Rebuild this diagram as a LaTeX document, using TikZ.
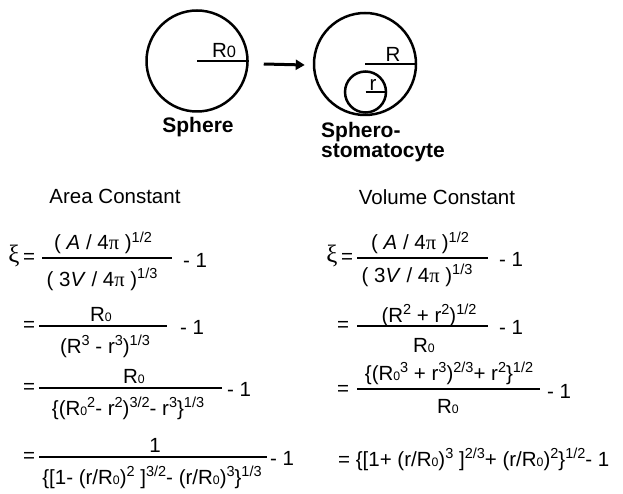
\documentclass[tikz,border=0pt]{standalone}
\usepackage{fontspec}
\setmainfont{Liberation Sans}
\newfontfamily\grk{Liberation Serif}
\usepackage{graphicx}
\usetikzlibrary{arrows.meta}
\newcommand\Rz{R\scalebox{0.6}{0}}
\newcommand\expo[1]{\raisebox{0.36em}{\fontsize{14.5}{16}\selectfont #1}}

\begin{document}
\begin{tikzpicture}[x=1pt, y=-1pt,
    every node/.style={inner sep=0pt},
    eq/.style={font=\fontsize{20.5}{24}\selectfont},
    greek/.style={font=\fontsize{25}{28}\selectfont\grk},
    head/.style={font=\fontsize{20.5}{24}\selectfont},
    lbl/.style={font=\fontsize{21}{22}\selectfont\bfseries},
    ball/.style={draw, circle, line width=2.5pt},
    rad/.style={line width=1.8pt},
    bar/.style={line width=1.4pt},
    arr/.style={line width=3pt, -{Triangle[length=9pt,width=10pt]}},
  ]
  \useasboundingbox (0,0) rectangle (623,494);

  \node[ball, minimum size=101pt] (sph) at (197,61) {};
  \draw[rad] (sph.center) -- (sph.east);
  \node[eq, anchor=base] (rnull) at (224,58) {R\scalebox{0.8}{0}};
  \node[lbl, anchor=base] (sphlbl) at (198,133) {Sphere};

  \node[ball, minimum size=102pt] (sto) at (365,64) {};
  \draw[rad] (sto.center) -- (sto.east);
  \node[eq, anchor=base] (rbig) at (393,62) {R};
  \node[ball, minimum size=41pt] (cell) at (365.5,92) {};
  \draw[rad] (cell.center) -- (cell.east);
  \node[eq, anchor=base] (rsmall) at (373,91) {r};
  \node[lbl, anchor=base west] (stolbl) at (321,138) {Sphero-};
  \node[lbl, anchor=base west] (stolblb) at (321,158) {stomatocyte};

  \draw[arr] ([xshift=15pt,yshift=-3pt]sph.east) -- ([xshift=-8pt,yshift=-1pt]sto.west);

  \node[head] (area) at (115,196) {Area Constant};
  \node[head] (vol) at (437,197) {Volume Constant};

  \node[greek] (xiA) at (14,256) {ξ};
  \node[eq] (eqA1) at (29,258) {=};
  \draw[bar] (42,258) -- (172,258);
  \node[eq, anchor=base] (numA1) at (103,250) {( \textit{A} / 4{\grk π} )\expo{1/2}};
  \node[eq, anchor=base] (denA1) at (102,286) {( 3\textit{V} / 4{\grk π} )\expo{1/3}};
  \node[eq] (mA1) at (195,260) {- 1};

  \node[eq] (eqA2) at (29,326) {=};
  \draw[bar] (39,326) -- (167,326);
  \node[eq, anchor=base] (numA2) at (101,321) {\Rz};
  \node[eq, anchor=base] (denA2) at (105,353) {(R\expo{3} - r\expo{3})\expo{1/3}};
  \node[eq] (mA2) at (192,327) {- 1};

  \node[eq] (eqA3) at (29,388) {=};
  \draw[bar] (39,388) -- (222,388);
  \node[eq, anchor=base] (numA3) at (134,383) {\Rz};
  \node[eq, anchor=base] (denA3) at (128,415) {\{(\Rz\expo{2}- r\expo{2})\expo{3/2}- r\expo{3}\}\expo{1/3}};
  \node[eq] (mA3) at (239,389) {- 1};

  \node[eq] (eqA4) at (29,457) {=};
  \draw[bar] (39,457) -- (267,457);
  \node[eq, anchor=base] (numA4) at (155,452) {1};
  \node[eq, anchor=base] (denA4) at (152,484) {\{[1- (r/\Rz)\expo{2} ]\expo{3/2}- (r/\Rz)\expo{3}\}\expo{1/3}};
  \node[eq] (mA4) at (282,458) {- 1};

  \node[greek] (xiV) at (332,256) {ξ};
  \node[eq] (eqV1) at (347,258) {=};
  \draw[bar] (357,258) -- (488,258);
  \node[eq, anchor=base] (numV1) at (420,250) {( \textit{A} / 4{\grk π} )\expo{1/2}};
  \node[eq, anchor=base] (denV1) at (417,282) {( 3\textit{V} / 4{\grk π} )\expo{1/3}};
  \node[eq] (mV1) at (511,259) {- 1};

  \node[eq] (eqV2) at (343,326) {=};
  \draw[bar] (357,326) -- (488,326);
  \node[eq, anchor=base] (numV2) at (429,322) {(R\expo{2} + r\expo{2})\expo{1/2}};
  \node[eq, anchor=base] (denV2) at (424,352) {\Rz};
  \node[eq] (mV2) at (511,327) {- 1};

  \node[eq] (eqV3) at (343,390) {=};
  \draw[bar] (357,389) -- (540,389);
  \node[eq, anchor=base] (numV3) at (449,380) {\{(\Rz\expo{3} + r\expo{3})\expo{2/3}+ r\expo{2}\}\expo{1/2}};
  \node[eq, anchor=base] (denV3) at (448,413) {\Rz};
  \node[eq] (mV3) at (559,391) {- 1};

  \node[eq, anchor=base west] (eqV4) at (338,466) {= \{[1+ (r/\Rz)\expo{3} ]\expo{2/3}+ (r/\Rz)\expo{2}\}\expo{1/2}- 1};
\end{tikzpicture}
\end{document}
